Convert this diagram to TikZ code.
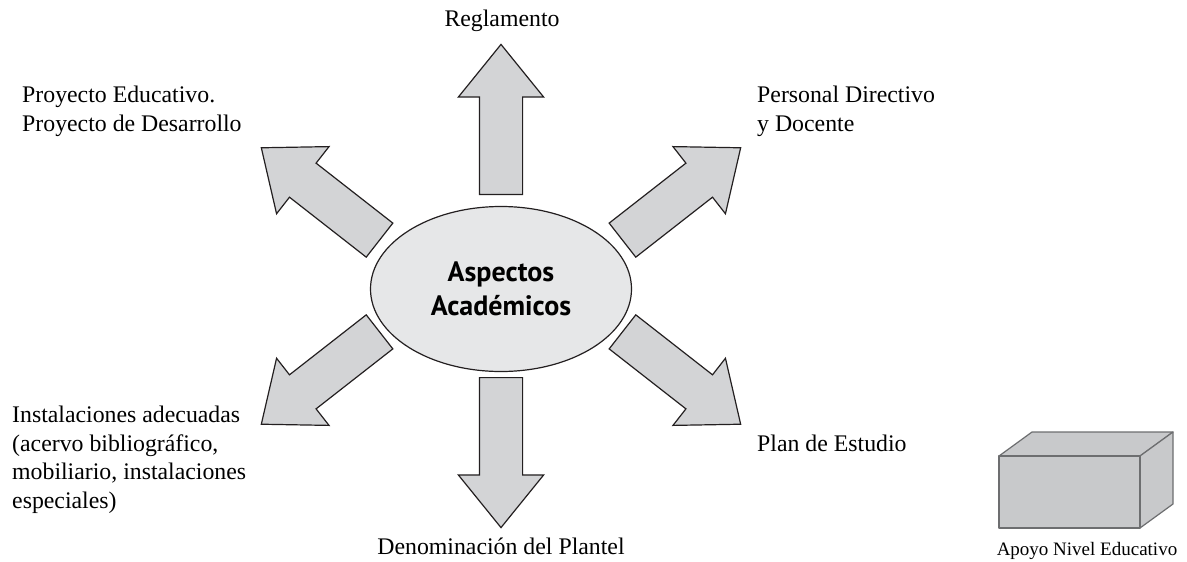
\documentclass[tikz,border=0pt]{standalone}
\usepackage{fontspec}
\setmainfont{Liberation Serif}
\newfontfamily\ellfont{PT Sans}
\usetikzlibrary{shapes.geometric,shapes.arrows}
\definecolor{inkblack}{HTML}{231F20}
\definecolor{arrowgray}{HTML}{D3D4D6}
\definecolor{ellgray}{HTML}{E6E7E8}
\definecolor{boxgray}{HTML}{C8C9CB}
\definecolor{boxline}{HTML}{6D6E70}
\tikzset{
  bigarrow/.style={single arrow, draw=inkblack, fill=arrowgray, line width=1.2pt,
    minimum height=150pt, inner xsep=0pt, inner ysep=21pt,
    single arrow head extend=21pt, single arrow tip angle=78, anchor=tail},
  lbltext/.style={font=\fontsize{23.8}{28.5}\selectfont, inner sep=0pt, align=left},
  boxface/.style={draw=boxline, fill=boxgray, line width=1.2pt, line join=round}
}
\begin{document}
\begin{tikzpicture}[x=1pt,y=-1pt]
\useasboundingbox (0,0) rectangle (1187,562);
\node[ellipse, draw=inkblack, fill=ellgray, line width=1.2pt, minimum width=261pt, minimum height=165pt, inner sep=0pt, align=center, font=\ellfont\bfseries\fontsize{28}{34.5}\selectfont] (asp) at (501,289) {Aspectos\\Académicos};
\node[bigarrow, rotate=90] (aup) at (501,195) {};
\node[bigarrow, rotate=38] (aur) at (622,240.5) {};
\node[bigarrow, rotate=142] (aul) at (380,240.5) {};
\node[bigarrow, rotate=218] (all) at (380,331.5) {};
\node[bigarrow, rotate=-38] (alr) at (622,331.5) {};
\node[bigarrow, rotate=-90] (adn) at (501,377) {};
\node[lbltext, anchor=base] (reg) at (502,26) {Reglamento};
\node[lbltext, anchor=base west] (proy) at (22,131) {Proyecto Educativo.\\Proyecto de Desarrollo};
\node[lbltext, anchor=base west] (pers) at (757,131) {Personal Directivo\\y Docente};
\node[lbltext, anchor=base west] (inst) at (12,508) {Instalaciones adecuadas\\(acervo bibliográfico,\\mobiliario, instalaciones\\especiales)};
\node[lbltext, anchor=base west] (plan) at (757,451) {Plan de Estudio};
\node[lbltext, anchor=base] (den) at (501,554) {Denominación del Plantel};
% caja de apoyo
\draw[boxface] (999,456) -- (1032,432) -- (1173,432) -- (1140,456) -- cycle;
\draw[boxface] (1140,456) -- (1173,432) -- (1173,504) -- (1140,528) -- cycle;
\draw[boxface] (999,456) rectangle (1140,528);
\node[lbltext, anchor=base, font=\fontsize{19}{23}\selectfont] (apoyo) at (1087,555) {Apoyo Nivel Educativo};
\end{tikzpicture}
\end{document}
